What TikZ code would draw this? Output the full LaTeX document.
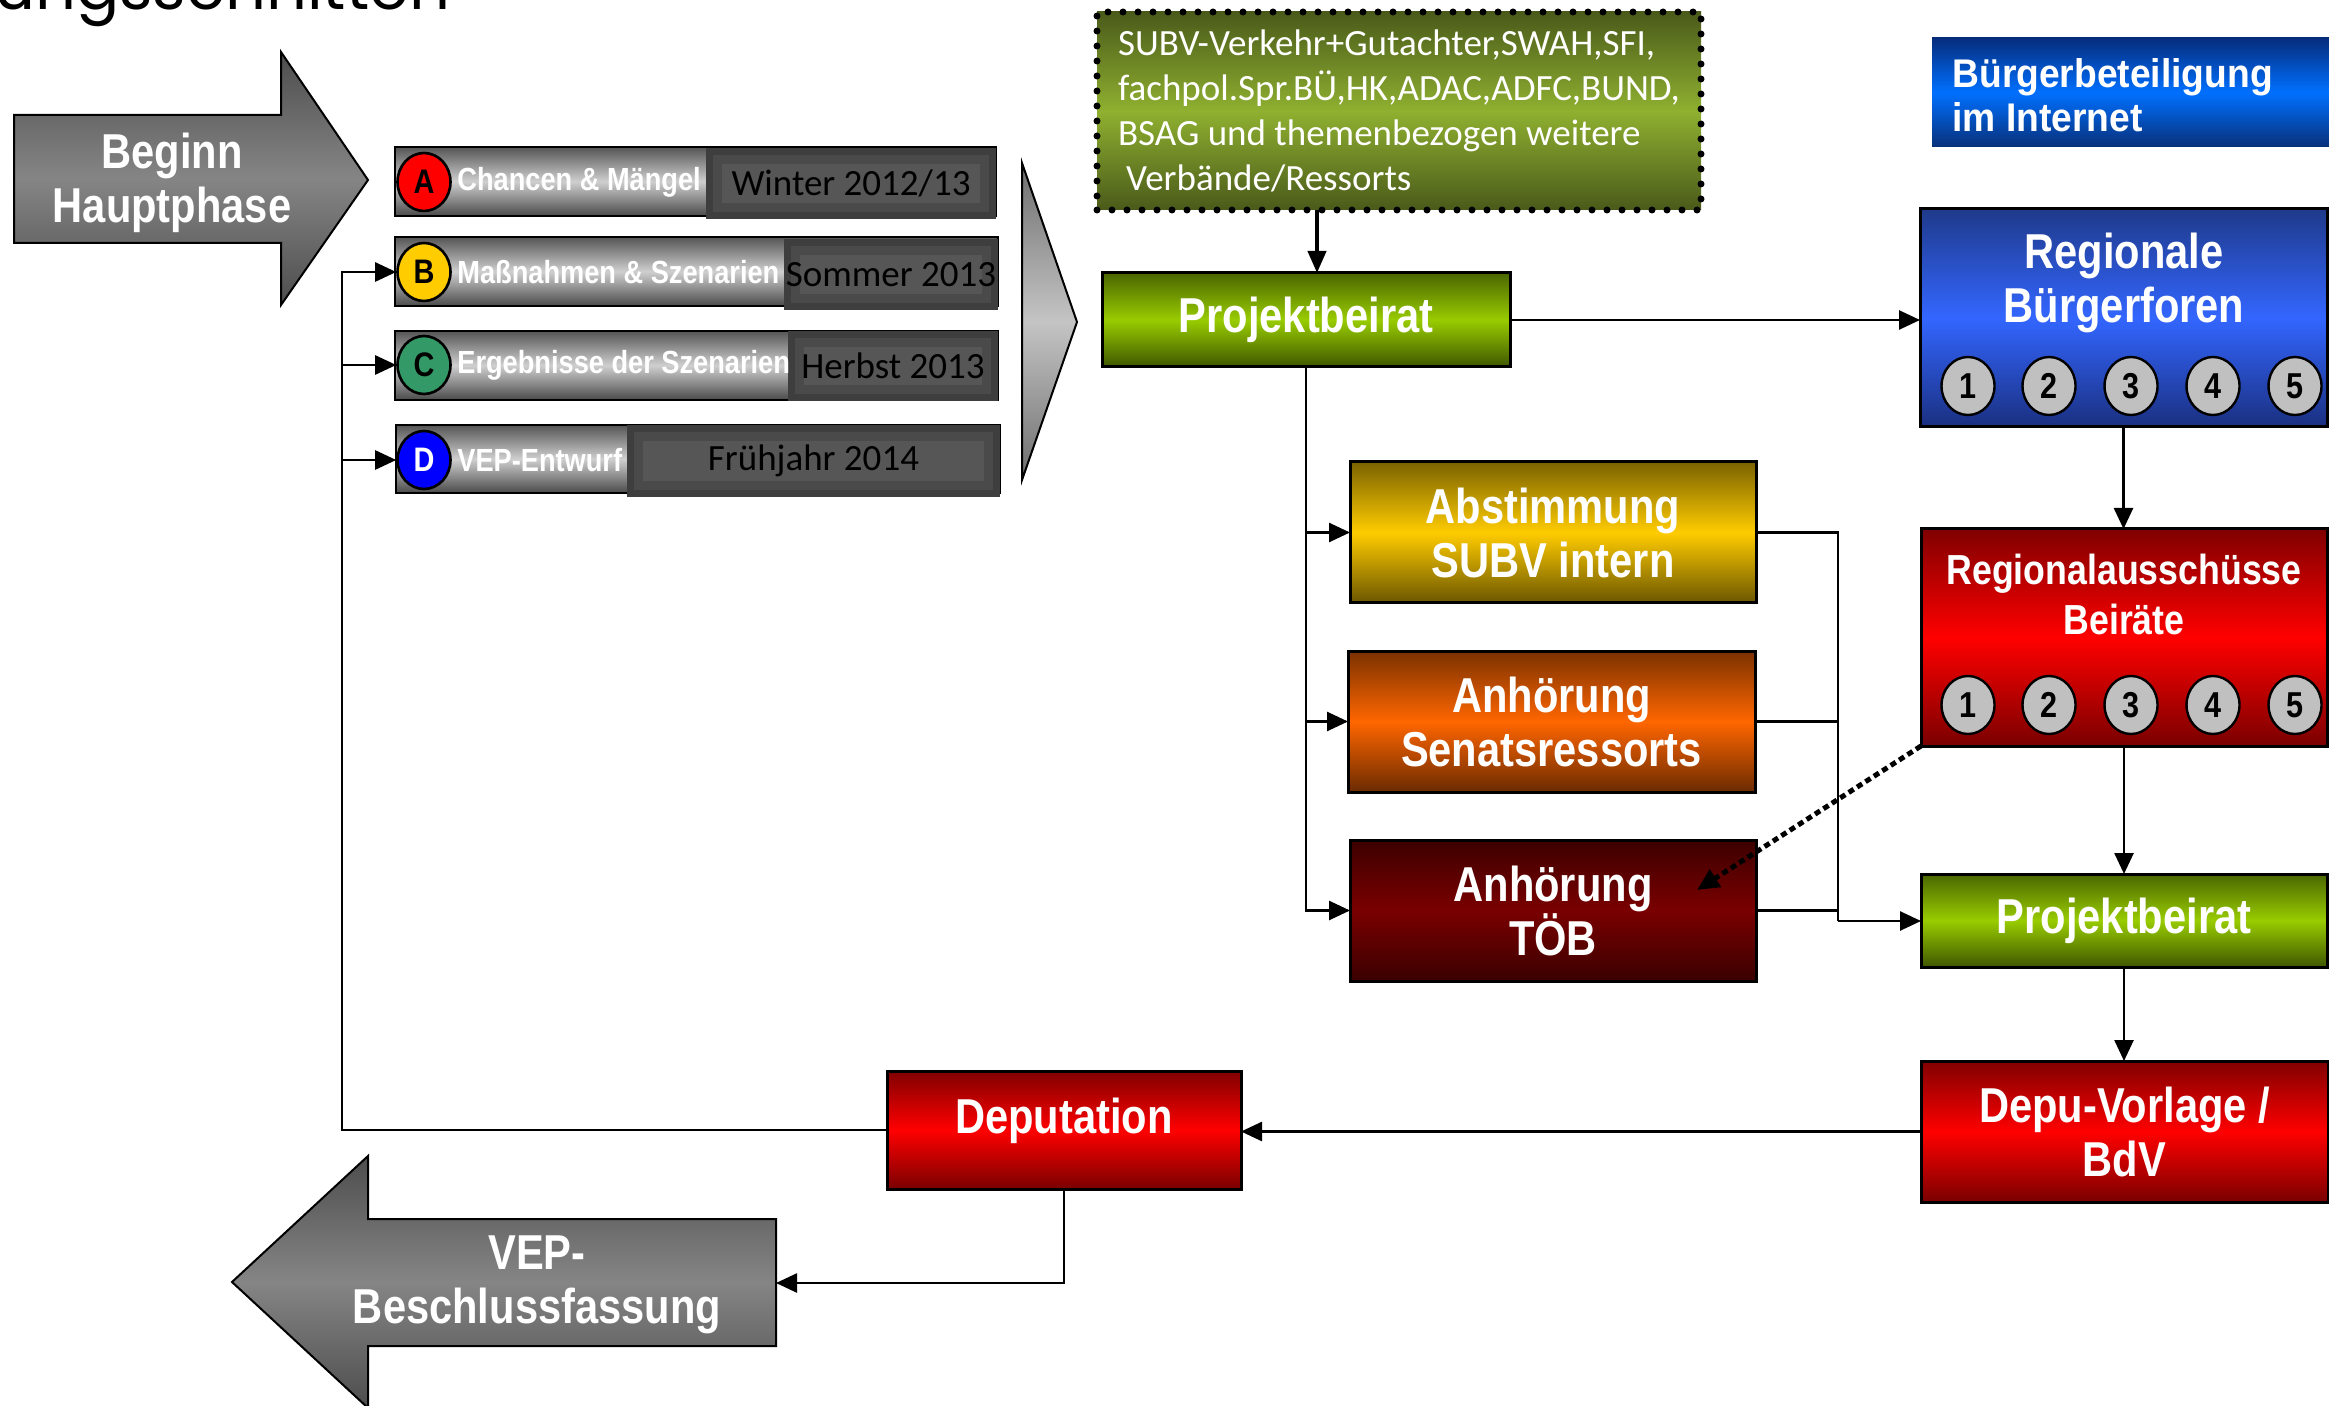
\documentclass[tikz,border=0pt]{standalone}
\usepackage{fontspec}
\setmainfont{Liberation Sans}
\newfontfamily\nar{Liberation Sans}[FakeStretch=0.85]
\newfontfamily\narb{Liberation Sans}[FakeStretch=0.93]
\newfontfamily\carl{Carlito}
\newfontfamily\titlefont{Poppins}
\usetikzlibrary{arrows.meta,shapes.geometric,calc}
\definecolor{pbT}{HTML}{4A6600}\definecolor{pbM}{HTML}{99CC00}\definecolor{pbB}{HTML}{3F5700}
\definecolor{abT}{HTML}{7A6200}\definecolor{abM}{HTML}{FFCC00}\definecolor{abB}{HTML}{6B5600}
\definecolor{seT}{HTML}{7A3100}\definecolor{seM}{HTML}{FF6600}\definecolor{seB}{HTML}{6B2B00}
\definecolor{tbT}{HTML}{3D0000}\definecolor{tbM}{HTML}{7A0000}\definecolor{tbB}{HTML}{3A0000}
\definecolor{rdT}{HTML}{800000}\definecolor{rdM}{HTML}{FF0000}\definecolor{rdB}{HTML}{7A0000}
\definecolor{bfT}{HTML}{1F3A8A}\definecolor{bfM}{HTML}{3366FF}\definecolor{bfB}{HTML}{1A2F80}
\definecolor{bbT}{HTML}{062C7C}\definecolor{bbM}{HTML}{0070FF}\definecolor{bbB}{HTML}{08307A}
\definecolor{dgT}{HTML}{4A5A1A}\definecolor{dgM}{HTML}{8FB030}\definecolor{dgB}{HTML}{4A5A1A}
\definecolor{arT}{HTML}{4D4D4D}\definecolor{arM}{HTML}{858585}
\definecolor{chT}{HTML}{6E6E6E}\definecolor{chM}{HTML}{C4C4C4}
\definecolor{rbT}{HTML}{555555}\definecolor{rbM}{HTML}{CFCFCF}\definecolor{rbB}{HTML}{4A4A4A}
\definecolor{dkO}{HTML}{3E3E3E}\definecolor{dkN}{HTML}{4A4A4A}\definecolor{dkI}{HTML}{565656}
\definecolor{numgray}{HTML}{C0C0C0}
\definecolor{cAc}{HTML}{FF0000}\definecolor{cBc}{HTML}{FFCC00}\definecolor{cCc}{HTML}{339966}\definecolor{cDc}{HTML}{0000FF}
\tikzset{
  grad/.style n args={3}{top color=#1, bottom color=#3, middle color=#2},
  box/.style={draw=black, line width=1.5pt, inner sep=0pt, outer sep=0pt, text=white,
    font=\nar\bfseries\fontsize{24.5}{27}\selectfont, align=center},
  lbl/.style={inner sep=0pt, text=white, font=\nar\bfseries\fontsize{24.5}{27}\selectfont, align=center},
  conn/.style={line width=1.3pt, draw=black},
  arr/.style={conn, -{Triangle[length=10.5pt,width=9.5pt]}},
  numc/.style={ellipse, draw=black, line width=1.2pt, fill=numgray, minimum width=26.5pt,
    minimum height=29pt, inner sep=0pt, font=\nar\bfseries\fontsize{18}{18}\selectfont},
  letc/.style={ellipse, draw=black, line width=1.3pt, minimum width=26.5pt,
    minimum height=29pt, inner sep=0pt, font=\nar\bfseries\fontsize{17}{17}\selectfont},
  rowbar/.style={draw=black, line width=1.3pt, inner sep=0pt, outer sep=0pt, grad={rbT}{rbM}{rbB}},
  datebox/.style={inner sep=0pt, outer sep=0pt, fill=dkO, font=\carl\fontsize{18.5}{22.5}\selectfont,
    path picture={
      \fill[dkN] ($(path picture bounding box.south west)+(7,-7)$) rectangle
      ($(path picture bounding box.north east)+(-7,7)$);
      \fill[dkI] ($(path picture bounding box.south west)+(16,-16)$) rectangle
      ($(path picture bounding box.north east)+(-16,16)$);}},
  rowtxt/.style={inner sep=0pt, anchor=west, text=white, font=\nar\bfseries\fontsize{16}{16}\selectfont},
  bigarrow/.style={draw=black, line width=1pt, top color=arT, bottom color=arT, middle color=arM},
}
\begin{document}
\begin{tikzpicture}[x=0.5pt,y=-0.5pt]
\useasboundingbox (0,0) rectangle (2329,1406);

% title fragment (cut off at the top edge, as in the reference)
\node[anchor=base west, inner sep=0pt, font=\titlefont\fontsize{32}{32}\selectfont] (title) at (-6,10) {ungsschnitten};

% Beginn Hauptphase arrow
\draw[bigarrow] (14,115) -- (281,115) -- (281,52) -- (368,180) -- (281,305) -- (281,243) -- (14,243) -- cycle;
\node[lbl] (beginn) at (172,183) {Beginn\\Hauptphase};

% phase rows
\node[rowbar, minimum width=300.5pt, minimum height=34.5pt] (rA) at (695.5,181.5) {};
\node[rowbar, minimum width=301.5pt, minimum height=34.5pt] (rB) at (696.5,271.5) {};
\node[rowbar, minimum width=301.5pt, minimum height=34.5pt] (rC) at (696.5,365.5) {};
\node[rowbar, minimum width=302pt, minimum height=34pt] (rD) at (698,459) {};
\node[datebox, minimum width=145pt, minimum height=35.5pt] (dA) at (851,183.5) {Winter 2012/13};
\node[datebox, minimum width=107pt, minimum height=35.5pt] (dB) at (891,274.5) {Sommer 2013};
\node[datebox, minimum width=105pt, minimum height=35pt] (dC) at (893,366) {Herbst 2013};
\node[datebox, minimum width=186.5pt, minimum height=36pt] (dD) at (813.5,461) {Frühjahr 2014};
\node[letc, fill=cAc] (cA) at (424,182) {A};
\node[letc, fill=cBc] (cB) at (424,272) {B};
\node[letc, fill=cCc] (cC) at (424,365) {C};
\node[letc, fill=cDc, text=white] (cD) at (424,460) {D};
\node[rowtxt] (tA) at (457,182) {Chancen \& Mängel};
\node[rowtxt] (tB) at (457,272) {Maßnahmen \& Szenarien};
\node[rowtxt] (tC) at (457,365) {Ergebnisse der Szenarien};
\node[rowtxt] (tD) at (457,460) {VEP-Entwurf};

% chevron
\draw[draw=black, line width=1pt, top color=chT, bottom color=chT, middle color=chM] (1022,163) -- (1077,322) -- (1022,480) -- cycle;

% stakeholder box
\node[inner sep=0pt, outer sep=0pt, grad={dgT}{dgM}{dgB}, draw=black, line width=3.5pt,
  dash pattern=on 0pt off 7.5pt, line cap=round, minimum width=302pt, minimum height=99pt,
  text=white, align=left, font=\carl\fontsize{18.5}{22.5}\selectfont] (sub) at (1399,111)
  {SUBV-Verkehr+Gutachter,SWAH,SFI,\\fachpol.Spr.BÜ,HK,ADAC,ADFC,BUND,\\BSAG und themenbezogen weitere\\\hspace{4pt}Verbände/Ressorts};

% main boxes
\node[box, grad={pbT}{pbM}{pbB}, minimum width=204pt, minimum height=47pt] (pb1) at (1306,320) {Projektbeirat};
\node[inner sep=0pt, outer sep=0pt, grad={bbT}{bbM}{bbB}, minimum width=198.5pt, minimum height=54.5pt] (bbi) at (2130.5,92.5) {};
\node[inner sep=0pt, anchor=west, align=left, text=white, font=\narb\bfseries\fontsize{20}{22}\selectfont] (bbit) at (1952,95) {Bürgerbeteiligung\\im Internet};

\node[box, grad={bfT}{bfM}{bfB}, minimum width=203.5pt, minimum height=109pt] (rbf) at (2123.5,318) {};
\node[lbl] (rbft) at (2124,283) {Regionale\\Bürgerforen};
\node[box, grad={rdT}{rdM}{rdB}, minimum width=203pt, minimum height=108.5pt] (ra) at (2124,637.5) {};
\node[lbl, font=\nar\bfseries\fontsize{21}{25}\selectfont] (rat) at (2124,594) {Regionalausschüsse\\Beiräte};
\foreach \i/\x in {1/1968,2/2049,3/2131,4/2213,5/2295}{
  \node[numc] (f\i) at (\x,386) {\i};
  \node[numc] (r\i) at (\x,705) {\i};
}
\node[box, grad={pbT}{pbM}{pbB}, minimum width=203pt, minimum height=46.5pt] (pb2) at (2124,920.5) {Projektbeirat};
\node[box, grad={rdT}{rdM}{rdB}, minimum width=203.5pt, minimum height=70.5pt] (depv) at (2124.5,1131.5) {Depu-Vorlage /\\BdV};
\node[box, grad={rdT}{rdM}{rdB}, minimum width=177pt, minimum height=59pt] (dep) at (1064,1130) {};
\node[lbl] (dept) at (1064,1121) {Deputation};

\node[box, grad={abT}{abM}{abB}, minimum width=203pt, minimum height=70.5pt] (abst) at (1553,532.5) {Abstimmung\\SUBV intern};
\node[box, grad={seT}{seM}{seB}, minimum width=203.5pt, minimum height=70.5pt] (sen) at (1551.5,721.5) {Anhörung\\Senatsressorts};
\node[box, grad={tbT}{tbM}{tbB}, minimum width=203pt, minimum height=70.5pt] (toeb) at (1553,910.5) {Anhörung\\TÖB};

% VEP-Beschlussfassung arrow
\draw[bigarrow] (776,1219) -- (368,1219) -- (368,1156) -- (232,1282) -- (368,1408) -- (368,1346) -- (776,1346) -- cycle;
\node[lbl] (vep) at (537,1285) {VEP-\\Beschlussfassung};

% coordinates for connectors
\coordinate (sa) at (1317,0);
\coordinate (jn) at (1838,921);
\coordinate (bus) at (342,272);
\coordinate (vepR) at (776,1283);
\coordinate (tend) at (1697,890);

% connectors
\draw[conn, line width=2pt, -{Triangle[length=11pt,width=9pt]}] (sub.south -| sa) -- (pb1.north -| sa);
\draw[arr] (pb1.east) -- (pb1.east -| rbf.west);
\draw[arr] (pb1.south) |- (abst.west);
\draw[arr] (pb1.south) |- (sen.west);
\draw[arr] (pb1.south) |- (toeb.west);
\draw[conn] (abst.east) -| (jn);
\draw[conn] (sen.east) -| (jn);
\draw[conn] (toeb.east) -| (jn);
\draw[arr] (jn) -- (jn -| pb2.west);
\draw[arr] (rbf.south) -- (rbf.south |- ra.north);
\draw[arr] (ra.south) -- (ra.south |- pb2.north);
\draw[arr] (pb2.south) -- (pb2.south |- depv.north);
\draw[line width=2.5pt, dash pattern=on 3pt off 2pt, -{Triangle[length=11pt,width=10pt]}] (ra.south west) -- (tend);
\draw[arr] (depv.west) -- (depv.west -| dep.east);
\draw[arr] (dep.west) -| (bus) -- (cB.west);
\draw[arr] (bus |- cC.west) -- (cC.west);
\draw[arr] (bus |- cD.west) -- (cD.west);
\draw[arr] (dep.south) |- (vepR);
\end{tikzpicture}
\end{document}
